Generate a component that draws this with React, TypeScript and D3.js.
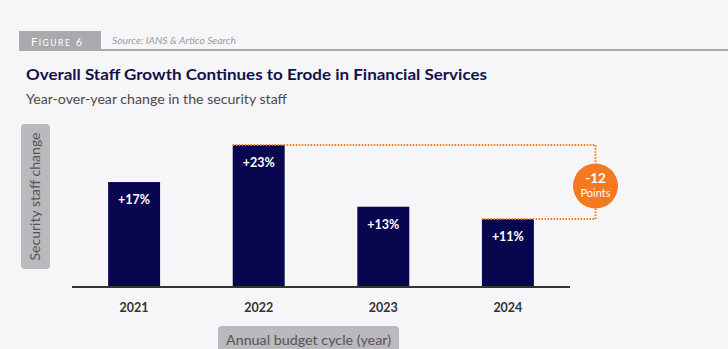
import React from "react";
import * as d3 from "d3";

const years = ["2021", "2022", "2023", "2024"];
const values = [17, 23, 13, 11];
const valueLabels = ["+17%", "+23%", "+13%", "+11%"];
const changeLabel = "-12";
const changeUnit = "Points";

const W = 728;
const H = 349;
const FONT = "Lato, 'Open Sans', sans-serif";

export default function App() {
  const x = d3
    .scaleBand<string>()
    .domain(years)
    .range([72, 570])
    .paddingInner(0.583)
    .paddingOuter(0.29);
  const y = d3.scaleLinear().domain([0, 23]).range([287, 145]);

  const maxIdx = values.indexOf(d3.max(values) as number);
  const lastIdx = values.length - 1;
  const cx = 595.5;
  const cy = 186;
  const r = 22.5;
  const topY = y(values[maxIdx]);
  const lowY = y(values[lastIdx]);

  return (
    <svg
      width={W}
      height={H}
      style={{ position: "absolute", left: 0, top: 0, background: "#f6f6f8" }}
      fontFamily={FONT}
    >
      <rect x={0} y={0} width={W} height={H} fill="#f6f6f8" />
      {/* header */}
      <rect x={19} y={31} width={82} height={20} fill="#a9a9ae" />
      <line x1={101} y1={50} x2={W} y2={50} stroke="#a9a9ae" strokeWidth={2} />
      <text x={31} y={45.5} fill="#fff" fontSize={11} letterSpacing={1.5}>
        F<tspan fontSize={8.5}>IGURE</tspan> 6
      </text>
      <text
        x={112}
        y={44}
        fill="#9a9aa0"
        fontSize={9.5}
        fontStyle="italic"
        textLength={124}
        lengthAdjust="spacingAndGlyphs"
      >
        Source: IANS &amp; Artico Search
      </text>
      <text
        x={26}
        y={80}
        fill="#12124a"
        fontSize={15.5}
        fontWeight="bold"
        textLength={461}
        lengthAdjust="spacingAndGlyphs"
      >
        Overall Staff Growth Continues to Erode in Financial Services
      </text>
      <text
        x={26}
        y={104}
        fill="#4a4a4a"
        fontSize={13.5}
        textLength={261}
        lengthAdjust="spacingAndGlyphs"
      >
        Year-over-year change in the security staff
      </text>

      {/* y axis label */}
      <rect x={21} y={124} width={29} height={145} rx={4} fill="#b9b9be" />
      <text
        transform={`translate(40,196.5) rotate(-90)`}
        textAnchor="middle"
        fill="#555"
        fontSize={13}
        textLength={128}
        lengthAdjust="spacingAndGlyphs"
      >
        Security staff change
      </text>

      {/* bars */}
      {years.map((yr, i) => (
        <g key={yr}>
          <rect
            x={x(yr)}
            y={y(values[i])}
            width={x.bandwidth()}
            height={y(0) - y(values[i])}
            fill="#08064f"
          />
          <text
            x={(x(yr) as number) + x.bandwidth() / 2}
            y={y(values[i]) + 22}
            textAnchor="middle"
            fill="#fff"
            fontSize={12.5}
            fontWeight="bold"
          >
            {valueLabels[i]}
          </text>
          <text
            x={(x(yr) as number) + x.bandwidth() / 2}
            y={312}
            textAnchor="middle"
            fill="#333"
            fontSize={12.5}
            fontWeight="bold"
          >
            {yr}
          </text>
        </g>
      ))}
      <line x1={72} y1={287} x2={570} y2={287} stroke="#333" strokeWidth={2} />

      {/* annotation */}
      <path
        d={`M${x(years[maxIdx])},${topY}H${cx}V${cy - r}`}
        fill="none"
        stroke="#f07c1a"
        strokeWidth={2}
        strokeDasharray="1.5 1.5"
      />
      <path
        d={`M${cx},${cy + r}V${lowY}H${x(years[lastIdx])}`}
        fill="none"
        stroke="#f07c1a"
        strokeWidth={2}
        strokeDasharray="1.5 1.5"
      />
      <circle cx={cx} cy={cy} r={r} fill="#f47920" />
      <text x={cx} y={cy - 3} textAnchor="middle" fill="#fff" fontSize={13.5} fontWeight="bold">
        {changeLabel}
      </text>
      <text x={cx} y={cy + 11} textAnchor="middle" fill="#fff" fontSize={11}>
        {changeUnit}
      </text>

      {/* x axis label */}
      <rect x={218} y={326} width={181} height={30} rx={4} fill="#b9b9be" />
      <text
        x={308.5}
        y={345}
        textAnchor="middle"
        fill="#555"
        fontSize={13}
        textLength={165}
        lengthAdjust="spacingAndGlyphs"
      >
        Annual budget cycle (year)
      </text>
    </svg>
  );
}
